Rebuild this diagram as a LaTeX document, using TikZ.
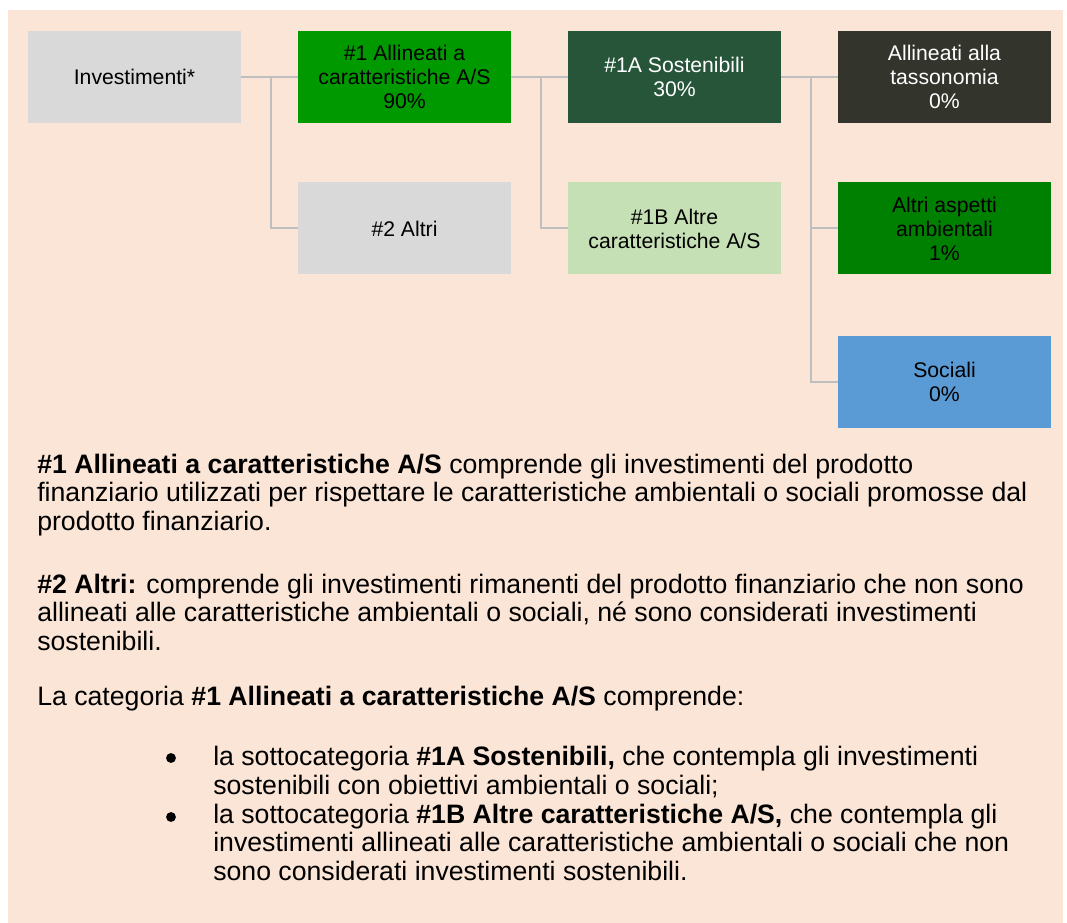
\documentclass[tikz,border=0pt]{standalone}
\usepackage{fontspec}
\setmainfont{Liberation Sans}
\definecolor{peach}{HTML}{FBE5D6}
\definecolor{boxgray}{HTML}{D9D9D9}
\definecolor{brightgreen}{HTML}{009900}
\definecolor{darkgreen}{HTML}{26553A}
\definecolor{palegreen}{HTML}{C5E0B4}
\definecolor{charcoal}{HTML}{33342B}
\definecolor{midgreen}{HTML}{008000}
\definecolor{socialblue}{HTML}{5B9BD5}
\definecolor{linkgray}{HTML}{BFBFBF}
\tikzset{
  box/.style={rectangle, inner sep=0pt, minimum width=159.75pt, minimum height=69pt,
    align=center, font=\fontsize{15.9}{18}\selectfont},
  link/.style={draw=linkgray, line width=1.5pt},
  txt/.style={anchor=base west, inner sep=0pt, align=left, font=\fontsize{20}{21.3}\selectfont},
}
\begin{document}
\begin{tikzpicture}[x=0.75pt,y=-0.75pt]
  \useasboundingbox (0,0) rectangle (1067,923);
  \fill[white] (0,0) rectangle (1067,923);
  \fill[peach] (8,10) rectangle (1063,923);
  % boxes
  \node[box, fill=boxgray] (inv) at (134.5,77) {Investimenti*};
  \node[box, fill=brightgreen] (al) at (404.5,77) {\#1 Allineati a\\caratteristiche A/S\\90\%};
  \node[box, fill=boxgray] (altri) at (404.5,228.5) {\#2 Altri};
  \node[box, fill=darkgreen, text=white] (sost) at (674.5,77) {\#1A Sostenibili\\30\%};
  \node[box, fill=palegreen] (altre) at (674.5,228.5) {\#1B Altre\\caratteristiche A/S};
  \node[box, fill=charcoal, text=white] (tax) at (944.5,77) {Allineati alla\\tassonomia\\0\%};
  \node[box, fill=midgreen] (amb) at (944.5,228.5) {Altri aspetti\\ambientali\\1\%};
  \node[box, fill=socialblue] (soc) at (944.5,382) {Sociali\\0\%};
  % connectors
  \coordinate (s1) at (271,0);
  \coordinate (s2) at (541,0);
  \coordinate (s3) at (811,0);
  \foreach \a/\b in {inv/al, al/sost, sost/tax} {
      \draw[link] (\a.east) -- (\b.west);
  }
  \foreach \s/\a/\b in {s1/inv/altri, s2/al/altre, s3/sost/amb, s3/sost/soc} {
      \draw[link] (\s |- \a.east) |- (\b.west);
  }
  % text (base = last line)
  \node[txt] (p1) at (37,530) {\textbf{\#1 Allineati a caratteristiche A/S} comprende gli investimenti del prodotto\\
    finanziario utilizzati per rispettare le caratteristiche ambientali o sociali promosse dal\\
    prodotto finanziario.};
  \node[txt] (p2) at (37,650) {\textbf{\#2 Altri:} comprende gli investimenti rimanenti del prodotto finanziario che non sono\\
    allineati alle caratteristiche ambientali o sociali, né sono considerati investimenti\\
    sostenibili.};
  \node[txt] (p3) at (37,705) {La categoria \textbf{\#1 Allineati a caratteristiche A/S} comprende:};
  \node[txt] (b1) at (213,794) {la sottocategoria \textbf{\#1A Sostenibili,} che contempla gli investimenti\\
    sostenibili con obiettivi ambientali o sociali;};
  \node[txt] (b2) at (213,880) {la sottocategoria \textbf{\#1B Altre caratteristiche A/S,} che contempla gli\\
    investimenti allineati alle caratteristiche ambientali o sociali che non\\
    sono considerati investimenti sostenibili.};
  \foreach \y in {758,817} {
      \fill (171,\y) circle (3.7pt);
  }
\end{tikzpicture}
\end{document}
